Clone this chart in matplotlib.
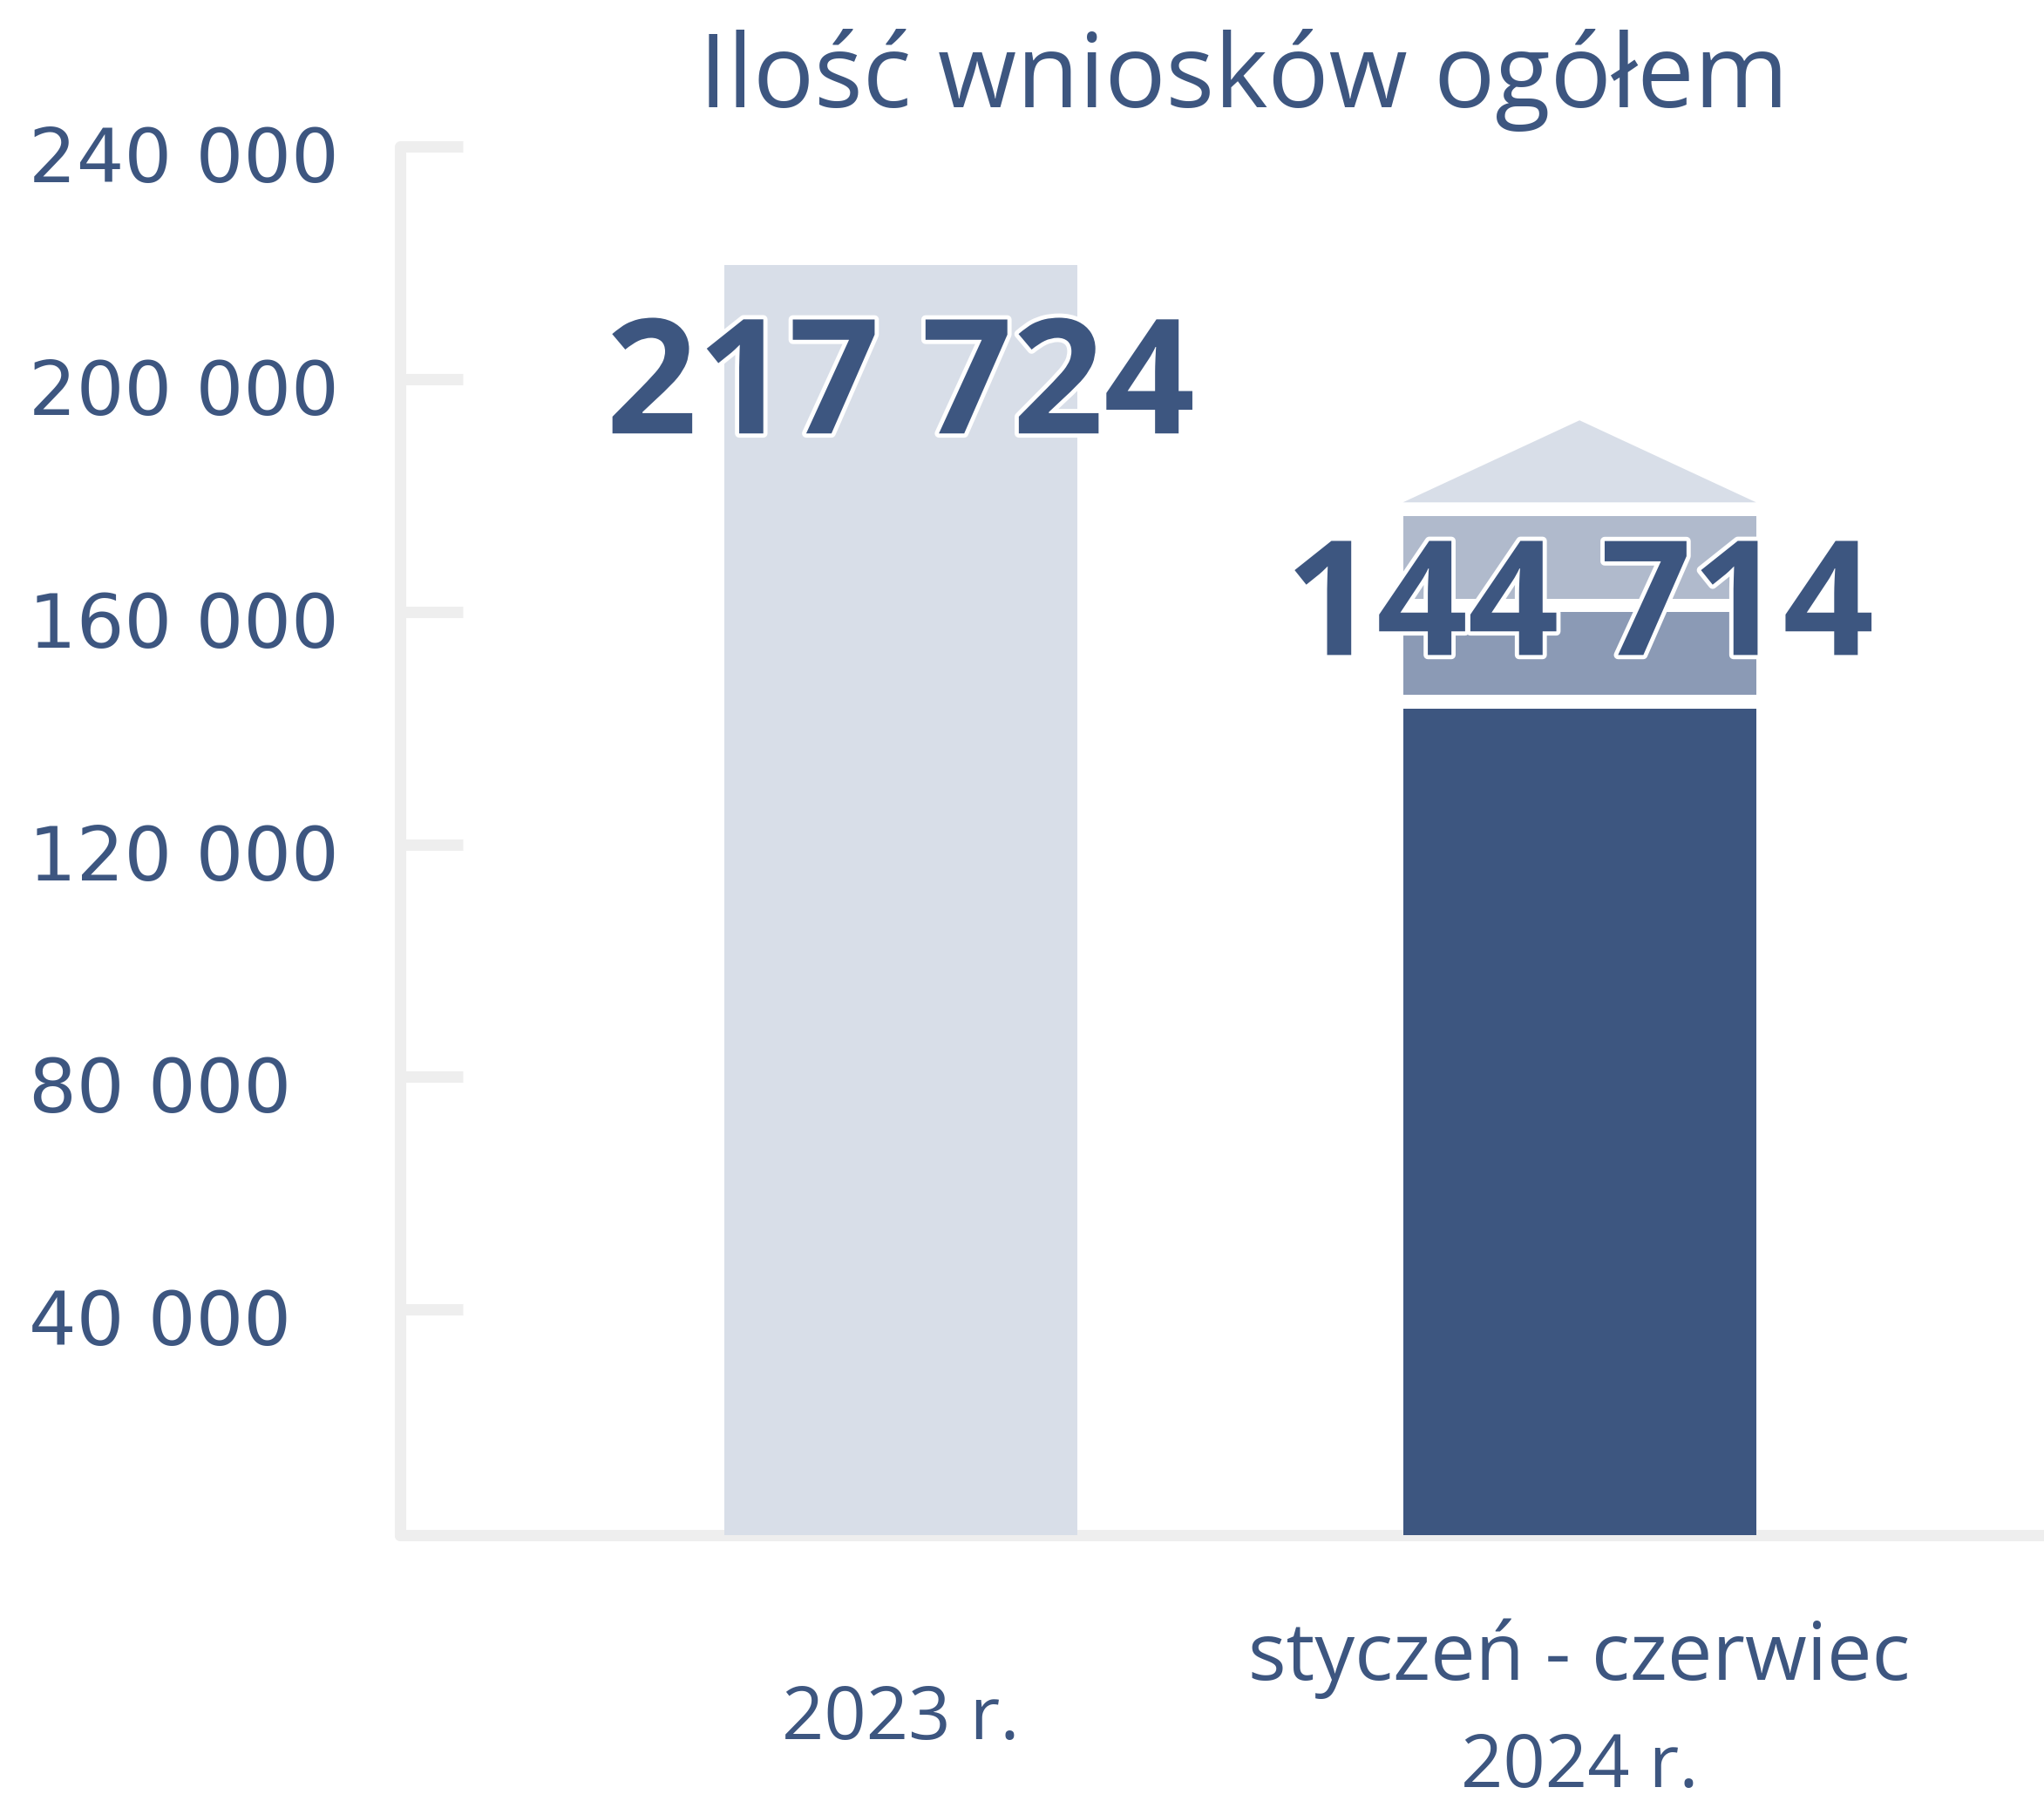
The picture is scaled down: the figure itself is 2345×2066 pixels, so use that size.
import matplotlib
matplotlib.use("Agg")
import matplotlib.pyplot as plt
import matplotlib.transforms as mtransforms
import matplotlib.patheffects as pe

# ---- data ----
categories = ["2023 r.", "styczeń - czerwiec\n2024 r."]
bar_values = [219600, 143250]            # bar heights as drawn
value_labels = ["217 724", "144 714"]
band_low = [145650, 162150]               # projected bands above 2024 bar
band_high = [159900, 176400]
arrow_base = 178800
arrow_tip = 192900
y_ticks = [40000, 80000, 120000, 160000, 200000, 240000]
y_tick_labels = ["40 000", "80 000", "120 000", "160 000", "200 000", "240 000"]
title = "Ilość wniosków ogółem"

# ---- style ----
TEXT = "#3D5680"
DARK = "#3D5680"
LIGHT = "#D8DEE8"
MID = "#8B9AB5"
PALE = "#B0BACC"
AXIS = "#EEEEEE"

W, H = 2345, 2066
fig = plt.figure(figsize=(W / 100, H / 100), dpi=100)
ax = fig.add_axes([459 / W, 1 - 1761 / H, 1 - 459 / W, (1761 - 168) / H])
ax.set_xlim(-0.737, 1.684)
ax.set_ylim(1200, 240000)

x = list(range(len(categories)))
bw = 0.52
ax.bar(x[0], bar_values[0], width=bw, color=LIGHT, zorder=2)
ax.bar(x[1], bar_values[1], width=bw, color=DARK, zorder=2)
band_colors = [MID, PALE]
for lo, hi, c in zip(band_low, band_high, band_colors):
    ax.bar(x[1], hi - lo, bottom=lo, width=bw, color=c, zorder=2)
ax.fill([x[1] - bw / 2, x[1], x[1] + bw / 2], [arrow_base, arrow_tip, arrow_base],
        color=LIGHT, lw=0, zorder=2)

# spines
for s in ["top", "right"]:
    ax.spines[s].set_visible(False)
for s in ["left", "bottom"]:
    ax.spines[s].set_color(AXIS)
    ax.spines[s].set_linewidth(9.4)
    ax.spines[s].set_capstyle("round")
    ax.spines[s].set_zorder(1)

ax.set_yticks(y_ticks)
ax.set_yticklabels([])
ax.tick_params(axis="y", direction="in", length=52, width=9.4, color=AXIS)
ax.set_xticks([])

# y tick labels, left aligned
tr = mtransforms.blended_transform_factory(fig.transFigure, ax.transData)
off = mtransforms.ScaledTranslation(0, -0.41, fig.dpi_scale_trans)
for v, lab in zip(y_ticks, y_tick_labels):
    fig.text(33 / W, v, lab, transform=tr + off, ha="left", va="baseline",
             fontsize=62, color=TEXT, family=["DejaVu Sans"])

# category labels
trx = mtransforms.blended_transform_factory(ax.transData, fig.transFigure)
ax.text(x[0], 1 - 1995 / H, categories[0], transform=trx, ha="center", va="baseline",
        fontsize=61, color=TEXT, family=["Open Sans", "DejaVu Sans"])
lines = categories[1].split("\n")
ax.text(x[1], 1 - 1927 / H, lines[0], transform=trx, ha="center", va="baseline",
        fontsize=66, color=TEXT, family=["Open Sans", "DejaVu Sans"])
ax.text(x[1], 1 - 2050 / H, lines[1], transform=trx, ha="center", va="baseline",
        fontsize=61, color=TEXT, family=["Open Sans", "DejaVu Sans"])

# value labels
label_baseline = [190650, 152550]
for xi, lab, yb in zip(x, value_labels, label_baseline):
    ax.text(xi, yb, lab, ha="center", va="baseline", fontsize=132, fontweight="bold",
            color=TEXT, family=["Open Sans", "DejaVu Sans"], zorder=5,
            path_effects=[pe.withStroke(linewidth=7, foreground="white")])

# title
fig.text(1427 / W, 1 - 123 / H, title, ha="center", va="baseline", fontsize=84,
         color=TEXT, family=["Open Sans", "DejaVu Sans"])

fig.savefig("out.png", dpi=100, facecolor="white")
